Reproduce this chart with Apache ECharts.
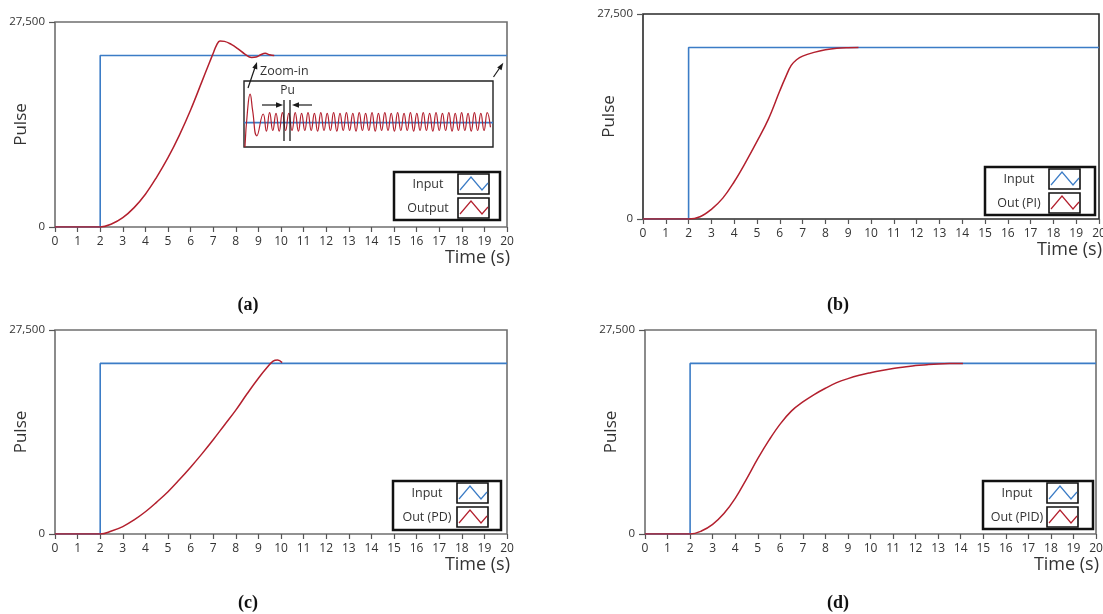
<!DOCTYPE html>
<html>
<head>
<meta charset="utf-8">
<script src="https://cdn.jsdelivr.net/npm/echarts@6/dist/echarts.min.js"></script>
<style>
html,body{margin:0;padding:0;background:#fff;}
#c{width:1103px;height:614px;}
</style>
</head>
<body>
<div id="c"></div>
<script>
// ---- Data ----
const X_TICKS = [0,1,2,3,4,5,6,7,8,9,10,11,12,13,14,15,16,17,18,19,20];
const Y_TICKS = [0, 27500];
const INPUT_T = [0, 2, 2, 20];
const INPUT_V = [0, 0, 23000, 23000];

// (a) P controller output
const T_A = [0,2,2.5,3,3.5,4,4.5,5,5.5,6,6.5,6.8,7.0,7.15,7.3,7.5,7.8,8.1,8.4,8.7,8.9,9.1,9.3,9.5,9.7];
const OUT_A = [0,0,400,1250,2600,4400,6700,9300,12300,15700,19500,21800,23300,24400,24950,24900,24500,23900,23200,22750,22800,23100,23300,23100,23000];
// (b) PI
const T_B = [0,2,2.5,3,3.5,4,4.5,5,5.5,6,6.25,6.5,6.75,7,7.5,8,8.5,9,9.45];
const OUT_B = [0,0,300,1300,2800,5000,7600,10400,13400,17200,19000,20600,21400,21850,22350,22700,22900,22980,23000];
// (c) PD
const T_C = [0,2,2.5,3,3.5,4,4.5,5,5.5,6,6.5,7,7.5,8,8.5,9,9.4,9.65,9.85,10.05];
const OUT_C = [0,0,400,1000,1900,3000,4300,5700,7300,9000,10800,12700,14700,16700,18900,21000,22500,23300,23450,23100];
// (d) PID
const T_D = [0,2,2.5,3,3.5,4,4.5,5,5.5,6,6.5,7,7.5,8,8.5,9,9.5,10,10.5,11,11.5,12,12.5,13,13.5,14.1];
const OUT_D = [0,0,400,1300,2750,4800,7400,10150,12650,14850,16600,17800,18800,19650,20400,20950,21400,21750,22050,22300,22500,22700,22820,22920,22980,23000];

// Inset (zoom-in of sustained oscillation, relative units)
const INSET_T = [0.15,0.55,0.95,1.35,2.0,
 3,3.5,4,4.5,5,5.5,6,6.5,7,7.5,8,8.5,9,9.5,10,10.5,11,11.5,12,12.5,13,13.5,14,14.5,15,15.5,16,16.5,17,17.5,18,18.5,19,19.5,20,20.5,21,21.5,22,22.5,23,23.5,24,24.5,25,25.5,26,26.5,27,27.5,28,28.5,29,29.5,30,30.5,31,31.5,32,32.5,33,33.5,34,34.5,35,35.5,36,36.5,37,37.5,38,38.5];
const INSET_V = [0.0,0.55,0.80,0.55,0.17,
 0.50,0.24,0.52,0.25,0.51,0.24,0.52,0.25,0.51,0.25,0.52,0.24,0.51,0.25,0.52,0.25,0.51,0.24,0.52,0.25,0.51,0.25,0.52,0.24,0.51,0.25,0.52,0.25,0.51,0.24,0.52,0.25,0.51,0.25,0.52,0.24,0.51,0.25,0.52,0.25,0.51,0.24,0.52,0.25,0.51,0.25,0.52,0.24,0.51,0.25,0.52,0.25,0.51,0.24,0.52,0.25,0.51,0.25,0.52,0.24,0.51,0.25,0.52,0.25,0.51,0.24,0.52,0.25,0.51,0.25,0.52,0.30];
const INSET_IN_T = [0, 38.9];
const INSET_IN_V = [0.37, 0.37];

const LEGEND_NAMES = [['Input','Output'],['Input','Out (PI)'],['Input','Out (PD)'],['Input','Out (PID)']];
const CAPTIONS = ['(a)','(b)','(c)','(d)'];

// ---- Style / layout ----
const BLUE = '#3b7cc6';
const RED = '#b3202e';
const FONT = 'Open Sans';
const grids = [
  {left:55, top:22, width:452, height:205, border:'#6f6f6f'},
  {left:643, top:14, width:456, height:205, border:'#2a2a2a'},
  {left:55, top:330, width:452, height:204, border:'#6f6f6f'},
  {left:645, top:330, width:451, height:204, border:'#6f6f6f'}
];
const legendBoxes = [
  {x:394, y:172, w:106, h:48},
  {x:985, y:167, w:110, h:48},
  {x:393, y:481, w:108, h:49},
  {x:983, y:481, w:110, h:48}
];
const captionPos = [[248,305],[838,305],[248,603],[838,603]];

const zip = (a,b) => a.map((v,i)=>[v,b[i]]);

const gridOpts = [], xAxes = [], yAxes = [], series = [], graphics = [];
const outs = [[T_A,OUT_A],[T_B,OUT_B],[T_C,OUT_C],[T_D,OUT_D]];

grids.forEach((g,i)=>{
  gridOpts.push({left:g.left, top:g.top, width:g.width, height:g.height, show:true,
    borderColor:g.border, borderWidth:1.6, backgroundColor:'#fff', containLabel:false, outerBoundsMode:'none'});
  xAxes.push({gridIndex:i, type:'value', min:X_TICKS[0], max:X_TICKS[X_TICKS.length-1], interval:1,
    axisLine:{show:false}, splitLine:{show:false},
    axisTick:{show:true, length:5, lineStyle:{color:'#555', width:1.2}},
    axisLabel:{margin:9, fontSize:12, color:'#333', fontFamily:FONT, hideOverlap:false},
    name:'Time (s)', nameLocation:'end', nameGap:3, nameMoveOverlap:false,
    nameTextStyle:{fontSize:18, color:'#333', fontFamily:FONT, align:'right', verticalAlign:'top', lineHeight:18, padding:[22,0,0,0]}
  });
  yAxes.push({gridIndex:i, type:'value', min:Y_TICKS[0], max:Y_TICKS[1], interval:27500,
    axisLine:{show:false}, splitLine:{show:false},
    axisTick:{show:true, length:6, lineStyle:{color:'#555', width:1.2}},
    axisLabel:{margin:10, fontSize:11.5, color:'#333', fontFamily:FONT},
    name:'Pulse', nameLocation:'middle', nameGap:25, nameRotate:90, nameMoveOverlap:false,
    nameTextStyle:{fontSize:17, color:'#333', fontFamily:FONT}
  });
  series.push({type:'line', name:LEGEND_NAMES[i][0], xAxisIndex:i, yAxisIndex:i, data:zip(INPUT_T,INPUT_V),
    showSymbol:false, lineStyle:{color:BLUE, width:1.6}, z:2, animation:false});
  series.push({type:'line', name:LEGEND_NAMES[i][1], xAxisIndex:i, yAxisIndex:i, data:zip(outs[i][0],outs[i][1]),
    showSymbol:false, smooth:0.4, lineStyle:{color:RED, width:1.5}, z:3, animation:false});

  // legend box
  const b = legendBoxes[i];
  graphics.push({type:'rect', shape:{x:b.x, y:b.y, width:b.w, height:b.h}, style:{fill:'#fff', stroke:'#111', lineWidth:2.5}, z:10});
  [0,1].forEach(k=>{
    const sy = b.y + 2 + k*24;
    const sx = b.x + 64;
    graphics.push({type:'text', x:b.x+34, y:sy+10, style:{text:LEGEND_NAMES[i][k], fill:'#333', font:'12.5px "Open Sans"', textAlign:'center', textVerticalAlign:'middle'}, z:11});
    graphics.push({type:'rect', shape:{x:sx, y:sy, width:31, height:20}, style:{fill:'#fff', stroke:'#111', lineWidth:1.6}, z:11});
    graphics.push({type:'polyline', shape:{points:[[sx+2,sy+16],[sx+13,sy+3],[sx+24,sy+16],[sx+30,sy+9]]}, style:{stroke:k===0?BLUE:RED, lineWidth:1.2, fill:null}, z:12});
  });
  graphics.push({type:'text', x:captionPos[i][0], y:captionPos[i][1], style:{text:CAPTIONS[i], fill:'#111', font:'bold 18px "Liberation Serif"', textAlign:'center', textVerticalAlign:'middle'}, z:11});
});

// inset grid
gridOpts.push({left:244, top:81, width:249, height:66, show:true, borderColor:'#222', borderWidth:1.4, backgroundColor:'#fff', z:5, outerBoundsMode:'none'});
xAxes.push({gridIndex:4, type:'value', min:0, max:38.9, show:false});
yAxes.push({gridIndex:4, type:'value', min:0, max:1, show:false});
series.push({type:'line', xAxisIndex:4, yAxisIndex:4, data:zip(INSET_IN_T,INSET_IN_V), showSymbol:false, lineStyle:{color:BLUE, width:1.6}, z:6, animation:false});
series.push({type:'line', xAxisIndex:4, yAxisIndex:4, data:zip(INSET_T,INSET_V), showSymbol:false, smooth:0.5, lineStyle:{color:RED, width:1.2}, z:7, animation:false});

// annotations in (a)
const ink = '#1a1a1a';
graphics.push(
  {type:'text', x:260, y:71, style:{text:'Zoom-in', fill:'#333', font:'12.5px "Open Sans"', textAlign:'left', textVerticalAlign:'middle'}, z:11},
  {type:'line', shape:{x1:248, y1:88, x2:255.5, y2:66}, style:{stroke:ink, lineWidth:1.2}, z:11},
  {type:'polygon', shape:{points:[[257,62],[257.3,69.4],[252.3,67.8]]}, style:{fill:ink}, z:11},
  {type:'line', shape:{x1:493.5, y1:77, x2:501, y2:66}, style:{stroke:ink, lineWidth:1.2}, z:11},
  {type:'polygon', shape:{points:[[503.3,62.7],[501.5,70.2],[497.2,67.4]]}, style:{fill:ink}, z:11},
  {type:'text', x:287.5, y:91, style:{text:'Pu', fill:'#333', font:'12px "Open Sans"', textAlign:'center', textVerticalAlign:'middle'}, z:11},
  {type:'line', shape:{x1:262, y1:105, x2:277, y2:105}, style:{stroke:ink, lineWidth:1.2}, z:11},
  {type:'polygon', shape:{points:[[283,105],[276,102.3],[276,107.7]]}, style:{fill:ink}, z:11},
  {type:'line', shape:{x1:298, y1:105, x2:312, y2:105}, style:{stroke:ink, lineWidth:1.2}, z:11},
  {type:'polygon', shape:{points:[[292,105],[299,102.3],[299,107.7]]}, style:{fill:ink}, z:11},
  {type:'line', shape:{x1:284, y1:100, x2:284, y2:141}, style:{stroke:ink, lineWidth:1.3}, z:11},
  {type:'line', shape:{x1:290, y1:100, x2:290, y2:141}, style:{stroke:ink, lineWidth:1.3}, z:11}
);

const chart = echarts.init(document.getElementById('c'), null, {renderer:'canvas'});
chart.setOption({
  animation:false,
  backgroundColor:'#fff',
  grid:gridOpts,
  xAxis:xAxes,
  yAxis:yAxes,
  series:series,
  graphic:{elements:graphics}
});
</script>
</body>
</html>
